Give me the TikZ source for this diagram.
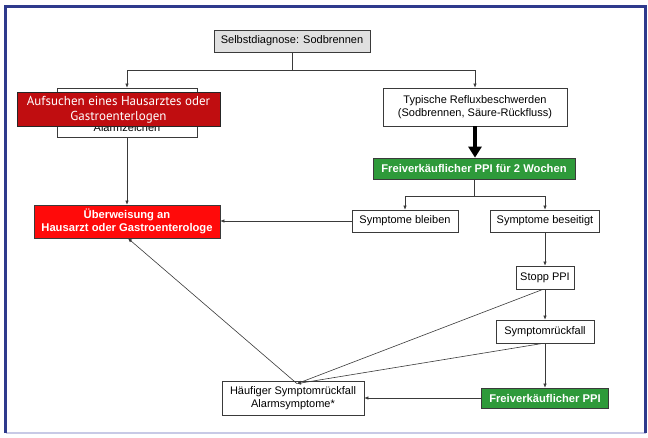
\documentclass[tikz,border=0pt]{standalone}
\usepackage{fontspec}
\setmainfont{Liberation Sans}
\newfontfamily\myrfont{PT Sans}
\usetikzlibrary{arrows.meta}
\definecolor{framebl}{HTML}{2E3A8C}
\definecolor{framelt}{HTML}{C8CAE6}
\definecolor{boxgray}{HTML}{E0E0E0}
\definecolor{ppigreen}{HTML}{2E9A3A}
\definecolor{alarmred}{HTML}{FF0A0A}
\definecolor{darkred}{HTML}{C00D10}
\definecolor{linegray}{HTML}{3A3A3A}
\tikzset{
  box/.style={draw=linegray, line width=0.7pt, fill=white, inner sep=0pt, align=center, font=\fontsize{11}{13}\selectfont},
  greenbox/.style={box, fill=ppigreen, text=white, font=\fontsize{11.2}{13}\selectfont\bfseries},
  redbox/.style={box, fill=alarmred, text=white, font=\fontsize{11.2}{13.5}\selectfont\bfseries},
  arr/.style={draw=linegray, line width=0.6pt, -{Latex[length=4pt,width=3.5pt]}},
  ln/.style={draw=linegray, line width=0.6pt},
}
\begin{document}
\begin{tikzpicture}[x=1pt,y=-1pt]
\useasboundingbox (0,0) rectangle (648,438);
\fill[white] (0,0) rectangle (648,438);
% frame
\draw[framelt, line width=1.5pt] (5.5,433) -- (645.5,433);
\draw[framebl, line width=3pt] (5.5,433) -- (5.5,6.5) -- (645.5,6.5) -- (645.5,433);

% nodes
\node[box, fill=boxgray, minimum width=156pt, minimum height=22pt] (sd) at (292,41) {Selbstdiagnose: Sodbrennen};
\node[box, minimum width=184pt, minimum height=38pt] (typ) at (475,107) {Typische Refluxbeschwerden\\(Sodbrennen, S\"aure-R\"uckfluss)};
\node[greenbox, minimum width=202pt, minimum height=21pt] (ppi2) at (474,168.5) {Freiverk\"auflicher PPI f\"ur 2 Wochen};
\node[box, minimum width=106pt, minimum height=22pt] (bleib) at (405,221) {Symptome bleiben};
\node[box, minimum width=109pt, minimum height=22pt] (besei) at (545,221) {Symptome beseitigt};
\node[box, minimum width=140pt, minimum height=49pt] (hid) at (127,112.5) {};
\node[anchor=base, inner sep=0pt, font=\fontsize{11}{13}\selectfont] (hidtxt) at (127,132) {Alarmzeichen};
\node[box, fill=darkred, text=white, line width=1pt, draw=black!85, minimum width=203pt, minimum height=34pt, font=\myrfont\fontsize{13}{14.5}\selectfont] (auf) at (118.5,110) {Aufsuchen eines Hausarztes oder\\Gastroenterlogen};
\node[redbox, minimum width=186pt, minimum height=33pt] (ueb) at (127,221.5) {\"Uberweisung an\\Hausarzt oder Gastroenterologe};
\node[box, minimum width=58pt, minimum height=23pt] (stopp) at (545,277.5) {Stopp PPI};
\node[box, minimum width=98pt, minimum height=23pt] (symp) at (545,331.5) {Symptomr\"uckfall};
\node[greenbox, minimum width=127pt, minimum height=20pt] (ppi) at (545,398) {Freiverk\"auflicher PPI};
\node[box, minimum width=142pt, minimum height=34pt] (haeuf) at (293,398) {H\"aufiger Symptomr\"uckfall\\Alarmsymptome*};

% connectors
\coordinate (j1) at (292,70);
\draw[ln] (sd.south) -- (j1);
\draw[arr] (j1) -| (hid.north);
\draw[arr] (j1) -| (typ.north);
\draw[line width=3.2pt, -{Triangle[length=11pt,width=13pt]}] (typ.south) -- (typ.south |- ppi2.north);
\coordinate (j2) at (474,196);
\draw[ln] (ppi2.south) -- (j2);
\draw[arr] (j2) -| (bleib.north);
\draw[arr] (j2) -| (besei.north);
\draw[arr] (hid.south) -- (ueb.north);
\draw[arr] (bleib.west) -- (bleib.west -| ueb.east);
\draw[arr] (besei.south) -- (stopp.north);
\draw[arr] (stopp.south) -- (symp.north);
\draw[arr] (symp.south) -- (ppi.north);
\draw[arr] (ppi.west) -- (haeuf.east);
\draw[arr] ([xshift=-2pt]stopp.south) -- ([xshift=4pt,yshift=-3pt]haeuf.north);
\draw[arr] ([xshift=-2pt]symp.south) -- ([xshift=4pt,yshift=-3pt]haeuf.north);
\draw[arr] ([xshift=4pt,yshift=-3pt]haeuf.north) -- ([xshift=1pt]ueb.south);
\end{tikzpicture}
\end{document}
